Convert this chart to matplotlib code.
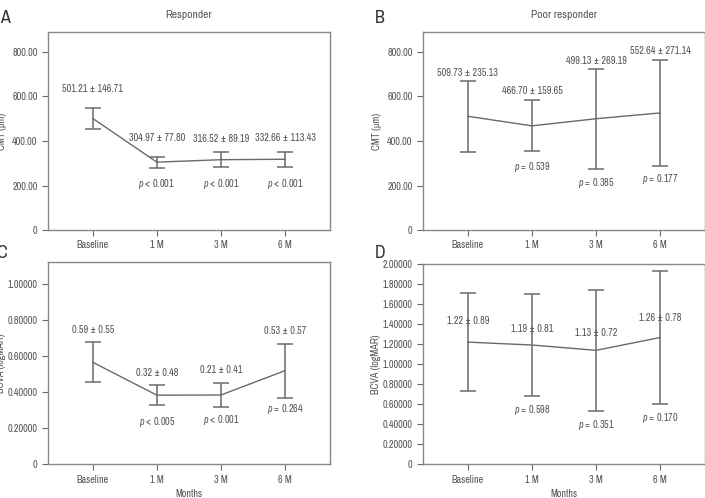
import matplotlib
matplotlib.use('Agg')
import matplotlib.pyplot as plt
from matplotlib.ticker import FuncFormatter

plt.rcParams['font.family'] = ['Archivo Narrow', 'DejaVu Sans']
plt.rcParams['mathtext.fontset'] = 'custom'
plt.rcParams['mathtext.it'] = 'Archivo Narrow:italic'
plt.rcParams['mathtext.rm'] = 'Archivo Narrow'

# DADOS
meses = ['Baseline', '1 M', '3 M', '6 M']

# A - responder, CMT
cmt_resp_media = [501, 305, 316, 318]
cmt_resp_erro = [49, 25, 33, 33]
cmt_resp_rotulos = ['501.21 \u00b1 146.71', '304.97 \u00b1 77.80', '316.52 \u00b1 89.19', '332.66 \u00b1 113.43']
cmt_resp_rotulos_y = [632, 415, 411, 415]
cmt_resp_p = ['', '< 0.001', '< 0.001', '< 0.001']
cmt_resp_p_y = [0, 205, 205, 205]

# B - poor responder, CMT
cmt_poor_media = [511, 468, 500, 526]
cmt_poor_erro = [160, 114, 225, 238]
cmt_poor_rotulos = ['509.73 \u00b1 235.13', '466.70 \u00b1 159.65', '499.13 \u00b1 269.19', '552.64 \u00b1 271.14']
cmt_poor_rotulos_y = [707, 623, 761, 803]
cmt_poor_p = ['', '= 0.539', '= 0.385', '= 0.177']
cmt_poor_p_y = [0, 284, 212, 229]

# C - responder, BCVA
bcva_resp_media = [0.564, 0.382, 0.383, 0.518]
bcva_resp_erro = [0.11, 0.057, 0.069, 0.15]
bcva_resp_rotulos = ['0.59 \u00b1 0.55', '0.32 \u00b1 0.48', '0.21 \u00b1 0.41', '0.53 \u00b1 0.57']
bcva_resp_rotulos_y = [0.744, 0.504, 0.524, 0.738]
bcva_resp_p = ['', '< 0.005', '< 0.001', '= 0.264']
bcva_resp_p_y = [0, 0.236, 0.242, 0.303]

# D - poor responder, BCVA
bcva_poor_media = [1.219, 1.19, 1.137, 1.265]
bcva_poor_erro = [0.49, 0.51, 0.607, 0.665]
bcva_poor_rotulos = ['1.22 \u00b1 0.89', '1.19 \u00b1 0.81', '1.13 \u00b1 0.72', '1.26 \u00b1 0.78']
bcva_poor_rotulos_y = [1.427, 1.352, 1.315, 1.460]
bcva_poor_p = ['', '= 0.598', '= 0.351', '= 0.170']
bcva_poor_p_y = [0, 0.543, 0.391, 0.459]

cor_linha = '#6a6a6a'
cor_texto = '#555555'
tam = 7.3


def fmt(casas):
    def f(v, pos):
        if abs(v) < 1e-9:
            return '0'
        return ('%.' + str(casas) + 'f') % v
    return FuncFormatter(f)


def painel(ax, media, erro, rotulos, rot_y, pvals, p_y, yticks, ymax, casas):
    x = list(range(len(meses)))
    ax.errorbar(x, media, yerr=erro, color=cor_linha, ecolor=cor_linha,
                elinewidth=1.1, capsize=5.5, capthick=1.1, lw=1.0)
    for i in x:
        ax.text(i, rot_y[i], rotulos[i], ha='center', va='center',
                fontsize=tam, color=cor_texto)
        if pvals[i]:
            ax.text(i, p_y[i], '$p$ ' + pvals[i], ha='center', va='center',
                    fontsize=tam, color=cor_texto)
    ax.set_xlim(-0.7, 3.7)
    ax.set_ylim(0, ymax)
    ax.set_xticks(x)
    ax.set_xticklabels(meses)
    ax.set_yticks(yticks)
    ax.yaxis.set_major_formatter(fmt(casas))
    ax.tick_params(colors=cor_linha, labelcolor=cor_texto, labelsize=tam,
                   length=4, width=0.8)
    for s in ax.spines.values():
        s.set_color('#888888')
        s.set_linewidth(1.0)


fig = plt.figure(figsize=(7.05, 4.98), dpi=100)
axA = fig.add_axes([0.068, 0.538, 0.400, 0.398])
axB = fig.add_axes([0.600, 0.538, 0.400, 0.398])
axC = fig.add_axes([0.068, 0.068, 0.400, 0.406])
axD = fig.add_axes([0.600, 0.068, 0.400, 0.402])

painel(axA, cmt_resp_media, cmt_resp_erro, cmt_resp_rotulos, cmt_resp_rotulos_y,
       cmt_resp_p, cmt_resp_p_y, [0, 200, 400, 600, 800], 890, 2)
painel(axB, cmt_poor_media, cmt_poor_erro, cmt_poor_rotulos, cmt_poor_rotulos_y,
       cmt_poor_p, cmt_poor_p_y, [0, 200, 400, 600, 800], 890, 2)
painel(axC, bcva_resp_media, bcva_resp_erro, bcva_resp_rotulos, bcva_resp_rotulos_y,
       bcva_resp_p, bcva_resp_p_y, [0, 0.2, 0.4, 0.6, 0.8, 1.0], 1.12, 5)
painel(axD, bcva_poor_media, bcva_poor_erro, bcva_poor_rotulos, bcva_poor_rotulos_y,
       bcva_poor_p, bcva_poor_p_y, [0.2 * i for i in range(11)], 2.0, 5)

axA.set_title('Responder', fontsize=8.3, color=cor_texto, pad=10)
axB.set_title('Poor responder', fontsize=8.3, color=cor_texto, pad=10)

for ax in (axA, axB):
    ax.set_ylabel('CMT (\u03bcm)', fontsize=tam, color=cor_texto, labelpad=4)
for ax in (axC, axD):
    ax.set_ylabel('BCVA (logMAR)', fontsize=tam, color=cor_texto, labelpad=1)
    ax.set_xlabel('Months', fontsize=tam, color=cor_texto, labelpad=3)

# letras dos paineis
fig.text(0.0, 0.963, 'A', fontsize=13, color='#333333', va='center')
fig.text(0.532, 0.963, 'B', fontsize=13, color='#333333', va='center')
fig.text(-0.006, 0.492, 'C', fontsize=13, color='#333333', va='center')
fig.text(0.532, 0.492, 'D', fontsize=13, color='#333333', va='center')

fig.savefig('out.png', dpi=100)
